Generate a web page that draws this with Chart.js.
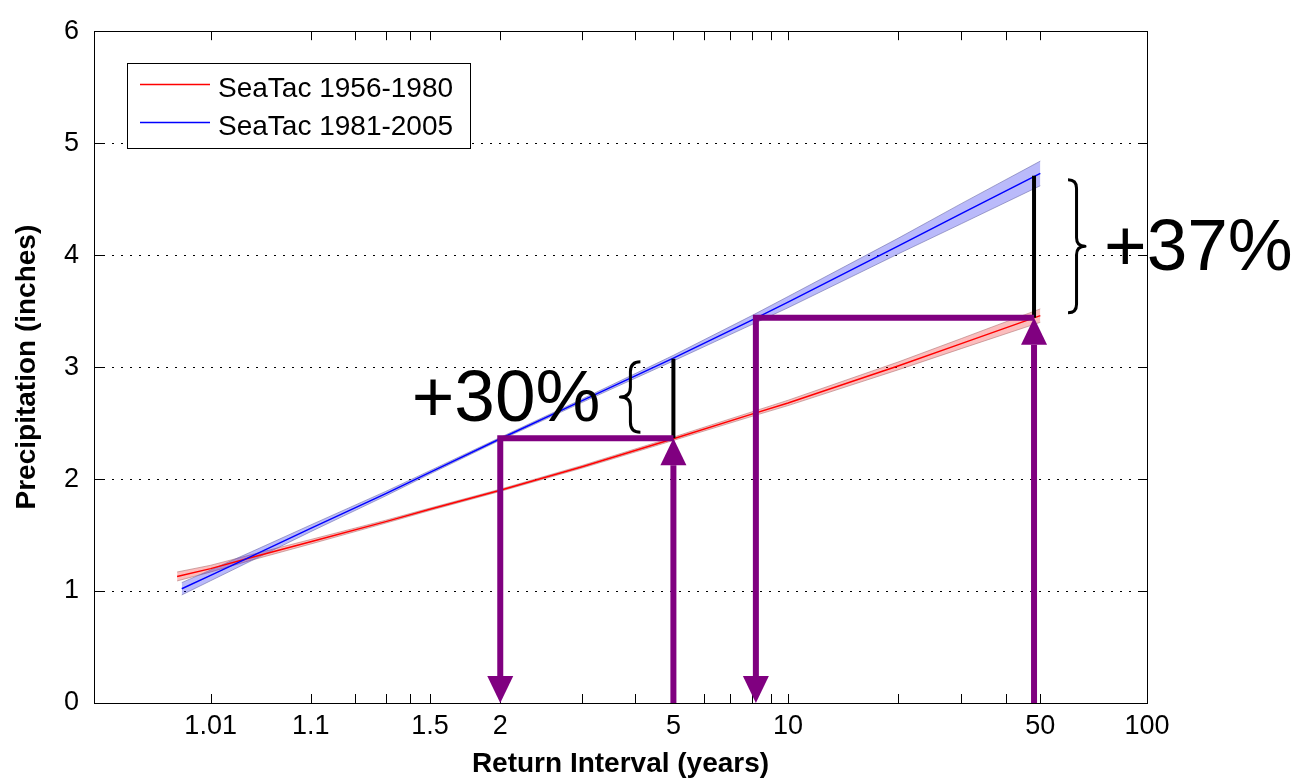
<!DOCTYPE html>
<html>
<head>
<meta charset="utf-8">
<title>SeaTac precipitation return intervals</title>
<script src="https://cdn.jsdelivr.net/npm/chart.js@4.4.1/dist/chart.umd.min.js"></script>
<style>
  html, body { margin: 0; padding: 0; background: #fff; }
  canvas { display: block; }
</style>
</head>
<body>
<canvas id="chart" width="1307" height="781"></canvas>
<script>
const FONT = "'Liberation Sans', Arial, Helvetica, sans-serif";

// Fitted return-interval curves (return period in years, precipitation in inches)
const seriesNames = ['SeaTac 1956-1980', 'SeaTac 1981-2005'];
const seriesColors = ['#ff0000', '#0000ff'];

const periodsEarly = [1.0032, 1.01, 1.03, 1.1, 1.3, 1.5, 2, 3, 5, 8, 10, 20, 30, 50];
const depthEarly   = [1.13, 1.20, 1.30, 1.44, 1.62, 1.73, 1.90, 2.11, 2.36, 2.58, 2.68, 3.01, 3.21, 3.46];
const lowerEarly   = [1.09, 1.17, 1.275, 1.42, 1.607, 1.719, 1.89, 2.098, 2.345, 2.56, 2.656, 2.975, 3.165, 3.40];
const upperEarly   = [1.17, 1.23, 1.325, 1.46, 1.633, 1.741, 1.91, 2.122, 2.375, 2.60, 2.704, 3.045, 3.255, 3.52];

const periodsLate  = [1.0038, 1.01, 1.03, 1.1, 1.3, 1.5, 2, 3, 5, 8, 10, 20, 30, 50];
const depthLate    = [1.02, 1.14, 1.31, 1.56, 1.87, 2.06, 2.36, 2.70, 3.08, 3.42, 3.58, 4.08, 4.37, 4.73];
const lowerLate    = [0.965, 1.092, 1.27, 1.53, 1.85, 2.045, 2.348, 2.685, 3.055, 3.38, 3.53, 4.01, 4.28, 4.62];
const upperLate    = [1.075, 1.188, 1.35, 1.59, 1.89, 2.075, 2.372, 2.715, 3.105, 3.46, 3.63, 4.15, 4.46, 4.84];

// Axis ticks
const xTickValues = [1.01, 1.1, 1.2, 1.3, 1.4, 1.5, 2, 3, 4, 5, 6, 7, 8, 9, 10, 20, 30, 40, 50, 100];
const xTickLabels = [1.01, 1.1, 1.5, 2, 5, 10, 50, 100];
const yTickValues = [0, 1, 2, 3, 4, 5, 6];

// Comparison call-outs: older depth at a period, newer depth there,
// and the period at which the newer fit already reaches the older depth
const comparePeriods = [5, 48];
const compareEarly   = [2.365, 3.44];
const compareLate    = [3.075, 4.71];
const matchPeriods   = [2, 8.2];
const changeLabels   = ['+30%', '+37%'];

// Gumbel (extreme value type I) probability axis
function reducedVariate(T) { return -Math.log(-Math.log(1 - 1 / T)); }
function periodFromVariate(v) { return 1 / (1 - Math.exp(-Math.exp(-v))); }

class GumbelScale extends Chart.Scale {
  determineDataLimits() {
    const {min, max} = this.getMinMax(false);
    const o = this.options;
    this.min = Number.isFinite(o.min) ? o.min : min;
    this.max = Number.isFinite(o.max) ? o.max : max;
  }
  buildTicks() {
    const values = this.options.tickValues || [];
    return values.filter(v => v >= this.min && v <= this.max).map(value => ({value}));
  }
  getLabelForValue(value) { return String(value); }
  configure() {
    super.configure();
    this._gStart = reducedVariate(this.min);
    this._gRange = reducedVariate(this.max) - this._gStart;
  }
  getPixelForValue(value) {
    if (value === null || value === undefined || isNaN(value)) return NaN;
    return this.getPixelForDecimal((reducedVariate(value) - this._gStart) / this._gRange);
  }
  getValueForPixel(pixel) {
    return periodFromVariate(this._gStart + this.getDecimalForPixel(pixel) * this._gRange);
  }
}
GumbelScale.id = 'gumbel';
GumbelScale.defaults = {};
Chart.register(GumbelScale);

const toPoints = (xs, ys) => xs.map((x, i) => ({x, y: ys[i]}));

// Dotted horizontal grid, inward tick marks and the axes box
const axesBox = {
  id: 'axesBox',
  beforeDatasetsDraw(chart) {
    const {ctx, chartArea: a, scales: {y}} = chart;
    ctx.save();
    ctx.strokeStyle = '#000';
    ctx.lineWidth = 1;
    ctx.setLineDash([2, 7]);
    y.ticks.forEach(t => {
      if (t.value <= y.min || t.value >= y.max) return;
      const py = Math.round(y.getPixelForValue(t.value)) + 0.5;
      ctx.beginPath();
      ctx.moveTo(a.left, py);
      ctx.lineTo(a.right, py);
      ctx.stroke();
    });
    ctx.restore();
  },
  afterDatasetsDraw(chart) {
    const {ctx, chartArea: a, scales: {x, y}} = chart;
    const len = 9;
    ctx.save();
    ctx.strokeStyle = '#000';
    ctx.lineWidth = 1;
    ctx.beginPath();
    x.ticks.forEach(t => {
      const px = Math.round(x.getPixelForValue(t.value)) + 0.5;
      ctx.moveTo(px, a.bottom); ctx.lineTo(px, a.bottom - len);
      ctx.moveTo(px, a.top); ctx.lineTo(px, a.top + len);
    });
    y.ticks.forEach(t => {
      const py = Math.round(y.getPixelForValue(t.value)) + 0.5;
      ctx.moveTo(a.left, py); ctx.lineTo(a.left + len, py);
      ctx.moveTo(a.right, py); ctx.lineTo(a.right - len, py);
    });
    ctx.stroke();
    ctx.strokeRect(Math.round(a.left) + 0.5, Math.round(a.top) + 0.5,
                   Math.round(a.right - a.left), Math.round(a.bottom - a.top));
    ctx.restore();
  }
};

function drawBrace(ctx, xBack, xTip, yTop, yBot) {
  const xm = (xBack + xTip) / 2;
  const ym = (yTop + yBot) / 2;
  const r = Math.abs(xTip - xBack) / 2;
  ctx.beginPath();
  ctx.moveTo(xBack, yTop);
  ctx.quadraticCurveTo(xm, yTop, xm, yTop + r);
  ctx.lineTo(xm, ym - r);
  ctx.quadraticCurveTo(xm, ym, xTip, ym);
  ctx.quadraticCurveTo(xm, ym, xm, ym + r);
  ctx.lineTo(xm, yBot - r);
  ctx.quadraticCurveTo(xm, yBot, xBack, yBot);
  ctx.stroke();
}

function drawHead(ctx, xTip, yTip, dir, head, half) {
  ctx.beginPath();
  ctx.moveTo(xTip, yTip);
  ctx.lineTo(xTip - half, yTip + dir * head);
  ctx.lineTo(xTip + half, yTip + dir * head);
  ctx.closePath();
  ctx.fill();
}

// Arrows, difference bars, braces and percentage labels
const comparison = {
  id: 'comparison',
  afterDraw(chart) {
    const {ctx, scales: {x, y}} = chart;
    const base = y.getPixelForValue(0);
    const purple = '#800080';
    const head = 27, half = 13;
    ctx.save();
    comparePeriods.forEach((T, i) => {
      const xc = x.getPixelForValue(T);
      const xm = x.getPixelForValue(matchPeriods[i]);
      const yLo = y.getPixelForValue(compareEarly[i]);
      const yHi = y.getPixelForValue(compareLate[i]);

      ctx.strokeStyle = '#000';
      ctx.lineWidth = 4;
      ctx.lineCap = 'butt';
      ctx.beginPath();
      ctx.moveTo(xc, yLo);
      ctx.lineTo(xc, yHi);
      ctx.stroke();

      ctx.strokeStyle = purple;
      ctx.fillStyle = purple;
      ctx.lineWidth = 6;
      ctx.lineJoin = 'miter';
      ctx.beginPath();
      ctx.moveTo(xc, base);
      ctx.lineTo(xc, yLo + head);
      ctx.stroke();
      drawHead(ctx, xc, yLo, 1, head, half);

      ctx.beginPath();
      ctx.moveTo(xc, yLo);
      ctx.lineTo(xm, yLo);
      ctx.lineTo(xm, base - head);
      ctx.stroke();
      drawHead(ctx, xm, base, -1, head, half);

      ctx.strokeStyle = '#000';
      ctx.fillStyle = '#000';
      ctx.lineWidth = 3;
      ctx.lineJoin = 'round';
      ctx.font = `73px ${FONT}`;
      ctx.textBaseline = 'alphabetic';
      const textY = (yHi + yLo) / 2 + 23;
      if (i === 0) {
        drawBrace(ctx, xc - 33, xc - 53, yHi + 3, yLo - 6);
        ctx.textAlign = 'right';
        ctx.fillText(changeLabels[i], xc - 73, textY);
      } else {
        drawBrace(ctx, xc + 34, xc + 51, yHi + 4, yLo - 5);
        ctx.textAlign = 'left';
        ctx.fillText(changeLabels[i], xc + 70, textY);
      }
    });
    ctx.restore();
  }
};

// Boxed legend in the upper-left corner of the axes
const boxLegend = {
  id: 'boxLegend',
  afterDraw(chart) {
    const {ctx, chartArea: a} = chart;
    const left = Math.round(a.left) + 33, top = Math.round(a.top) + 32, w = 343, h = 85;
    ctx.save();
    ctx.fillStyle = '#fff';
    ctx.fillRect(left, top, w, h);
    ctx.strokeStyle = '#000';
    ctx.lineWidth = 1;
    ctx.strokeRect(left + 0.5, top + 0.5, w, h);
    ctx.font = `28px ${FONT}`;
    ctx.textAlign = 'left';
    ctx.textBaseline = 'alphabetic';
    [0, 1].forEach(i => {
      const ds = chart.data.datasets[i];
      const cy = top + 21.5 + i * 38;
      ctx.strokeStyle = ds.borderColor;
      ctx.lineWidth = 1.5;
      ctx.beginPath();
      ctx.moveTo(left + 13, cy);
      ctx.lineTo(left + 83, cy);
      ctx.stroke();
      ctx.fillStyle = '#000';
      ctx.fillText(ds.label, left + 91, cy + 12.5);
    });
    ctx.restore();
  }
};

const lineStyle = {pointRadius: 0, tension: 0, fill: false};

new Chart(document.getElementById('chart'), {
  type: 'line',
  data: {
    datasets: [
      {label: seriesNames[0], data: toPoints(periodsEarly, depthEarly), borderColor: seriesColors[0], borderWidth: 1.5, order: 1, ...lineStyle},
      {label: seriesNames[1], data: toPoints(periodsLate, depthLate), borderColor: seriesColors[1], borderWidth: 1.5, order: 0, ...lineStyle},
      {label: 'upper 1956-1980', data: toPoints(periodsEarly, upperEarly), borderColor: 'rgba(170,110,110,0.55)', borderWidth: 1, order: 3, ...lineStyle},
      {label: 'lower 1956-1980', data: toPoints(periodsEarly, lowerEarly), borderColor: 'rgba(170,110,110,0.55)', borderWidth: 1, order: 3,
        pointRadius: 0, tension: 0, fill: '-1', backgroundColor: 'rgba(240,0,0,0.26)'},
      {label: 'upper 1981-2005', data: toPoints(periodsLate, upperLate), borderColor: 'rgba(110,110,170,0.6)', borderWidth: 1, order: 2, ...lineStyle},
      {label: 'lower 1981-2005', data: toPoints(periodsLate, lowerLate), borderColor: 'rgba(110,110,170,0.6)', borderWidth: 1, order: 2,
        pointRadius: 0, tension: 0, fill: '-1', backgroundColor: 'rgba(0,0,235,0.27)'}
    ]
  },
  options: {
    responsive: false,
    animation: false,
    events: [],
    layout: {padding: {top: 19, right: 160, bottom: 0, left: 0}},
    plugins: {
      legend: {display: false},
      tooltip: {enabled: false}
    },
    scales: {
      x: {
        type: 'gumbel',
        position: 'bottom',
        min: 1.00005,
        max: 100,
        tickValues: xTickValues,
        grid: {display: false, drawTicks: false},
        border: {display: false},
        ticks: {
          autoSkip: false, maxRotation: 0, minRotation: 0, padding: 7,
          color: '#000', font: {family: FONT, size: 27},
          callback: value => xTickLabels.includes(value) ? String(value) : ''
        },
        title: {
          display: true, text: 'Return Interval (years)', color: '#000',
          font: {family: FONT, size: 28, weight: 'bold', lineHeight: 1.2},
          padding: {top: 0, bottom: 0}
        },
        afterFit: s => { s.height = 78; }
      },
      y: {
        type: 'linear',
        min: 0,
        max: 6,
        afterBuildTicks: s => { s.ticks = yTickValues.map(value => ({value})); },
        grid: {display: false, drawTicks: false},
        border: {display: false},
        ticks: {padding: 15, color: '#000', font: {family: FONT, size: 27}},
        title: {
          display: true, text: 'Precipitation (inches)', color: '#000',
          font: {family: FONT, size: 28, weight: 'bold', lineHeight: 1.2},
          padding: {top: 10, bottom: 0}
        },
        afterFit: s => { s.width = 94; }
      }
    }
  },
  plugins: [axesBox, comparison, boxLegend]
});
</script>
</body>
</html>
